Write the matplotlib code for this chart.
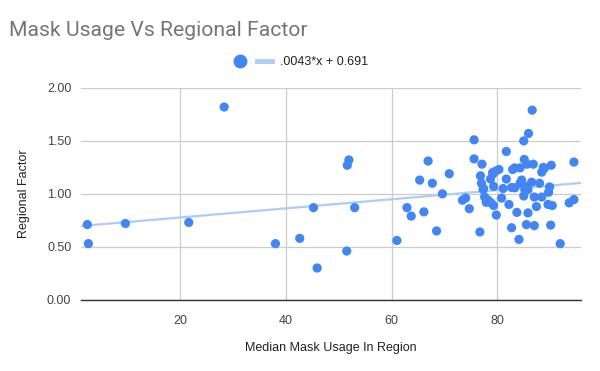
import numpy as np
import matplotlib.pyplot as plt
from matplotlib.lines import Line2D

# median mask usage (%) vs regional factor
mask_usage = [2.4, 2.6, 9.6, 21.6, 28.3, 38.0, 42.6, 45.2, 45.9, 51.5, 51.6, 51.9, 53.0,
              61.0, 62.9, 63.7, 65.3, 66.1, 66.9, 67.7, 68.5, 69.6, 70.9, 73.4, 74.0,
              74.7, 75.6, 75.6, 76.7, 77.1, 76.8, 77.0, 77.4, 77.6, 77.9, 78.8, 79.3,
              79.8, 78.7, 79.2, 79.7, 80.3, 79.3, 80.8, 81.7, 81.7, 81.1, 82.2, 82.9,
              83.3, 84.3, 82.7, 83.7, 82.7, 84.1, 85.0, 85.9, 85.1, 84.3, 85.0, 85.5,
              85.8, 86.6, 86.8, 88.7, 90.2, 88.4, 94.5, 86.5, 88.0, 85.5, 89.9, 89.7,
              87.0, 88.4, 87.4, 89.6, 90.4, 94.5, 93.6, 87.0, 90.1, 91.9, 83.3, 85.8,
              85.2, 84.6, 85.6, 78.1, 78.4, 77.3, 79.1, 88.9]
regional_factor = [0.71, 0.53, 0.72, 0.73, 1.82, 0.53, 0.58, 0.87, 0.30, 0.46, 1.27, 1.32, 0.87,
                   0.56, 0.87, 0.79, 1.13, 0.83, 1.31, 1.10, 0.65, 1.00, 1.19, 0.94, 0.96,
                   0.86, 1.51, 1.33, 0.64, 1.28, 1.17, 1.10, 1.05, 0.97, 0.92, 0.915, 0.89,
                   0.80, 1.14, 1.19, 1.215, 1.23, 1.07, 0.96, 1.40, 1.14, 1.05, 0.90, 1.23,
                   1.245, 1.245, 1.06, 0.825, 0.68, 0.57, 1.50, 1.57, 1.325, 1.10, 0.98, 0.71,
                   0.82, 1.79, 1.28, 1.25, 1.27, 1.205, 1.30, 1.11, 1.10, 1.07, 1.065, 1.015,
                   0.97, 0.97, 0.88, 0.90, 0.89, 0.946, 0.915, 0.70, 0.705, 0.53, 1.057, 1.04,
                   1.04, 1.13, 1.28, 0.946, 0.93, 1.04, 1.20, 1.24]

# trendline from the legend
slope = 0.0043
intercept = 0.691
trend_label = ".0043*x + 0.691"

x_ticks = [20, 40, 60, 80]
y_ticks = [0.0, 0.5, 1.0, 1.5, 2.0]

blue = "#4285F4"
trend_color = "#AECBFA"

plt.rcParams['font.family'] = ['Liberation Sans', 'DejaVu Sans']

fig = plt.figure(figsize=(6, 3.71), dpi=100)
ax = fig.add_axes([0.135, 0.192, 0.833, 0.571])

xmin, xmax = 1.2, 95.8
xs = np.array([xmin, xmax])
ax.plot(xs, slope * xs + intercept, color=trend_color, lw=1.6, zorder=2)
ax.scatter(mask_usage, regional_factor, s=44, color=blue, edgecolors='none', zorder=3)

ax.set_xlim(xmin, xmax)
ax.set_ylim(0, 2.0)
ax.set_xticks(x_ticks)
ax.set_yticks(y_ticks)
ax.set_yticklabels([f"{v:.2f}" for v in y_ticks])
ax.grid(True, color="#cccccc", lw=0.9)
ax.set_axisbelow(True)
for s in ['top', 'right', 'left']:
    ax.spines[s].set_visible(False)
ax.spines['bottom'].set_color('#333333')
ax.spines['bottom'].set_linewidth(1.0)
ax.spines['bottom'].set_zorder(4)
ax.tick_params(length=0, labelsize=9, colors='#444444', pad=7)
ax.tick_params(axis='x', pad=11)

ax.set_xlabel("Median Mask Usage In Region", fontsize=9, color='#222222', labelpad=11)
ax.set_ylabel("Regional Factor", fontsize=9, color='#222222', labelpad=12)

fig.text(0.015, 0.918, "Mask Usage Vs Regional Factor", fontsize=15.2, color='#757575',
         family=['Roboto', 'DejaVu Sans'], va='center', ha='left')

handles = [Line2D([], [], marker='o', ls='none', color=blue, markersize=9),
           Line2D([], [], color=trend_color, lw=3.5)]
fig.legend(handles, ['', trend_label], loc='center', bbox_to_anchor=(0.5, 0.833), ncol=2,
           frameon=False, fontsize=9, handlelength=1.2, columnspacing=0.2, handletextpad=0.6,
           labelcolor='#222222')

fig.savefig("out.png", dpi=100, facecolor='white')
